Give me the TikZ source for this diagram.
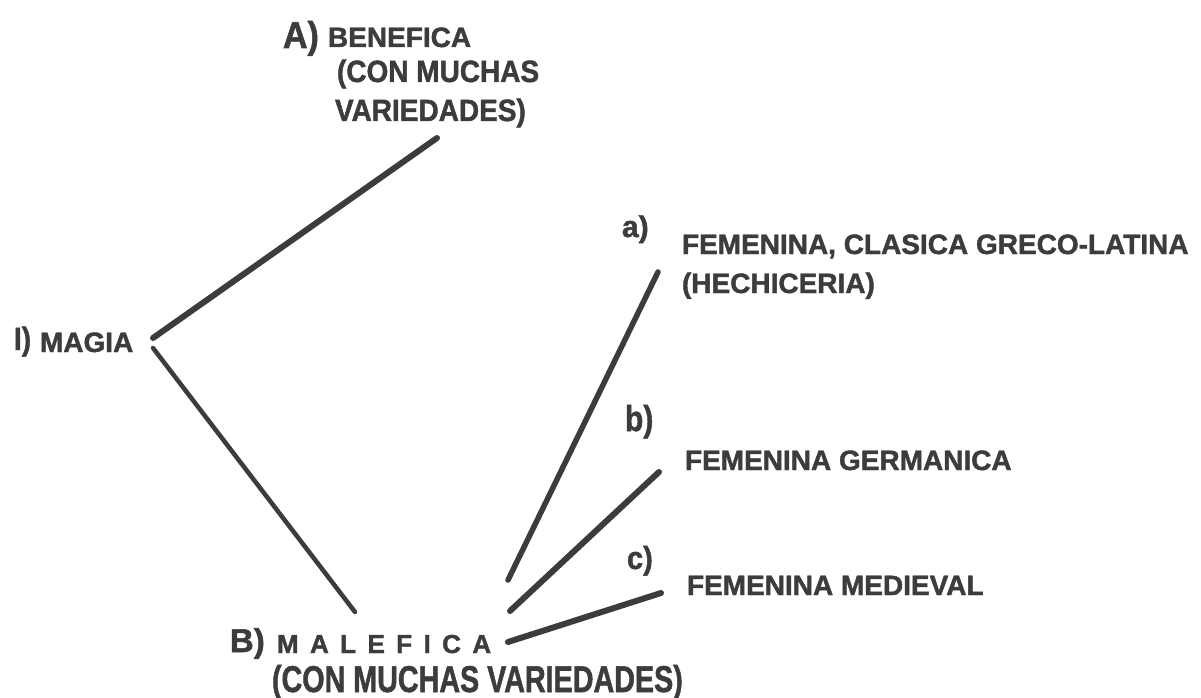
\documentclass[tikz,border=0pt]{standalone}
\usepackage{fontspec}
\usepackage{graphicx}
\setmainfont{Liberation Sans}[BoldFeatures={FakeBold=1.5}]
\definecolor{ink}{HTML}{3C3C3C}
\newcommand\lsp{\hspace{11.4bp}}
\newcommand\fs[1]{\fontsize{#1bp}{#1bp}\selectfont}
\tikzset{
  lbl/.style={anchor=base west, inner sep=0pt, outer sep=0pt, text=ink, font=\bfseries\fs{28}},
  pre/.style={lbl, font=\bfseries\fs{32}},
  branch/.style={draw=ink, line width=6bp, line cap=round}
}
\begin{document}
\begin{tikzpicture}[x=1bp,y=-1bp]
\useasboundingbox (0,0) rectangle (1201,698);
\fill[white] (0,0) rectangle (1201,698);
% labels
\node[pre, font=\bfseries\fs{34}] (Apre) at (283,48) {\scalebox{1}[1.1]{A)}};
\node[lbl] (Ben) at (328,47) {BENEFICA};
\node[lbl] (Ben2) at (337,82) {\scalebox{1}[1.1]{(CON MUCHAS}};
\node[lbl] (Ben3) at (335,121) {\scalebox{1}[1.1]{VARIEDADES)}};
\node[pre, font=\bfseries\fs{28}] (Ipre) at (14,350) {\scalebox{1}[1.15]{I)}};
\node[lbl] (Mag) at (40,352) {MAGIA};
\node[pre, font=\bfseries\fs{30}] (apre) at (622,237) {a)};
\node[lbl] (fa1) at (682,254) {FEMENINA, CLASICA GRECO-LATINA};
\node[lbl] (fa2) at (682,293) {(HECHICERIA)};
\node[pre, font=\bfseries\fs{30}] (bpre) at (625,431) {\scalebox{1}[1.2]{b)}};
\node[lbl] (fb) at (685,470) {FEMENINA GERMANICA};
\node[pre, font=\bfseries\fs{29}] (cpre) at (627,569) {\scalebox{1}[1.1]{c)}};
\node[lbl] (fc) at (687,595) {FEMENINA MEDIEVAL};
\node[pre, font=\bfseries\fs{33}] (Bpre) at (230,652) {B)};
\node[lbl, font=\bfseries\fs{26}] (Mal) at (277,653) {M\lsp A\lsp L\lsp E\lsp F\lsp I\lsp C\lsp A};
\node[lbl, font=\bfseries\fs{28.7}] (Mal2) at (272,692) {\scalebox{1}[1.3]{(CON MUCHAS VARIEDADES)}};
% connector end points
\coordinate (m1) at (153,338);
\coordinate (m2) at (153,348);
\coordinate (aA) at (437,138);
\coordinate (bB) at (355,612);
\coordinate (a0) at (508,580);
\coordinate (a1) at (658,272);
\coordinate (b0) at (510,611);
\coordinate (b1) at (659,472);
\coordinate (c0) at (508,642);
\coordinate (c1) at (661,593);
% connectors
\draw[branch] (m1) -- (aA);
\draw[branch, line width=4.5bp] (m2) -- (bB);
\draw[branch, line width=5.5bp] (a0) -- (a1);
\draw[branch] (b0) -- (b1);
\draw[branch] (c0) -- (c1);
\end{tikzpicture}
\end{document}
